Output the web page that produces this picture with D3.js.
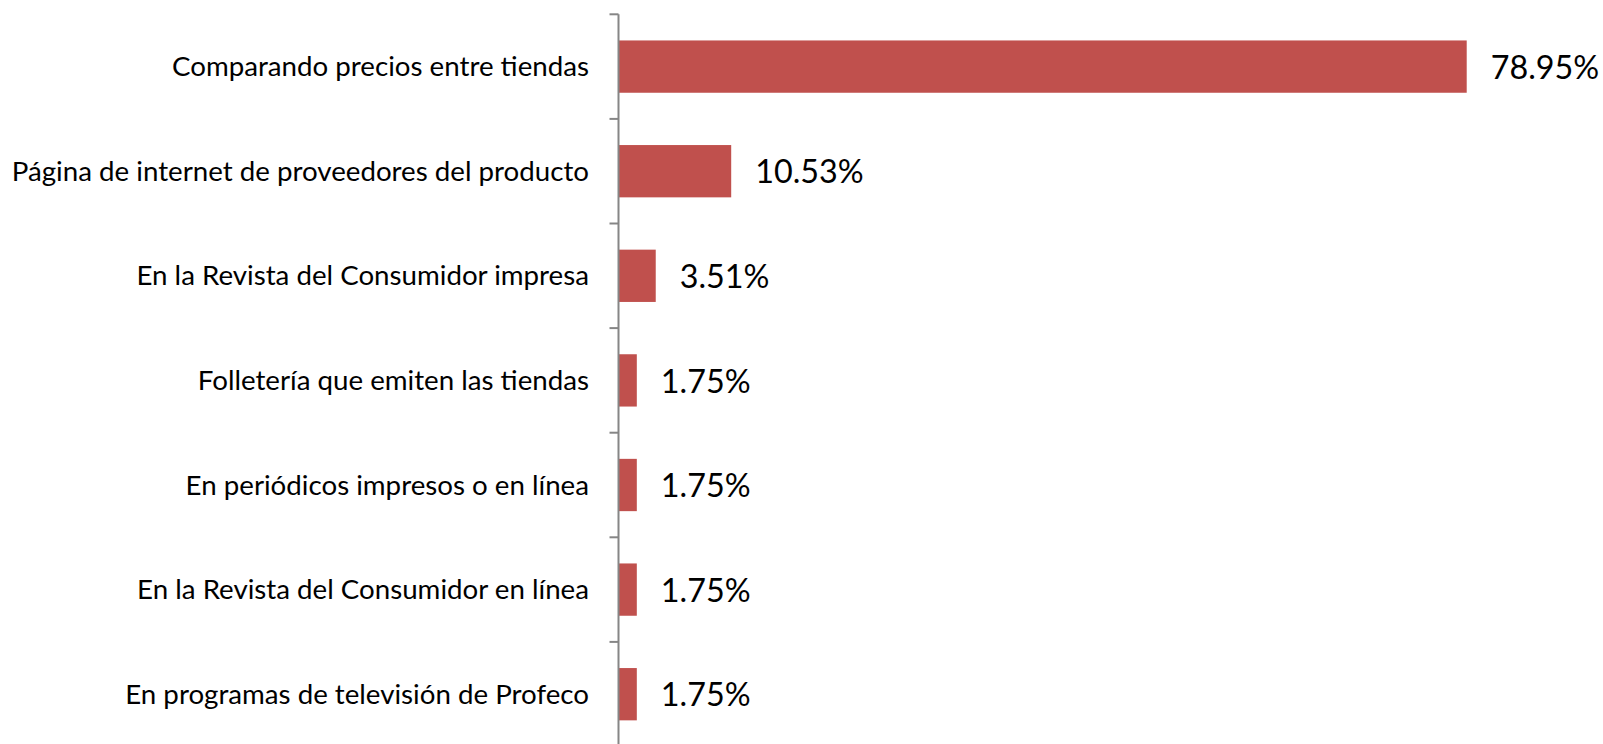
<!DOCTYPE html>
<html>
<head>
<meta charset="utf-8">
<script src="https://cdn.jsdelivr.net/npm/d3@7"></script>
<style>
  html, body { margin: 0; padding: 0; background: #ffffff; overflow: hidden; }
  svg { display: block; }
</style>
</head>
<body>
<svg id="chart" width="1603" height="744"></svg>
<script>
const categories = [
  "Comparando precios entre tiendas",
  "Página de internet de proveedores del producto",
  "En la Revista del Consumidor impresa",
  "Folletería que emiten las tiendas",
  "En periódicos impresos o en línea",
  "En la Revista del Consumidor en línea",
  "En programas de televisión de Profeco"
];
const values = [78.95, 10.53, 3.51, 1.75, 1.75, 1.75, 1.75];
const valueLabels = ["78.95%", "10.53%", "3.51%", "1.75%", "1.75%", "1.75%", "1.75%"];

const W = 1603, H = 744;
const svg = d3.select("#chart");

const x = d3.scaleLinear().domain([0, 90]).range([618, 1585.5]);
const y = d3.scaleBand().domain(categories).range([14.3, 746.5])
  .paddingInner(0.5).paddingOuter(0.25);

const data = categories.map((c, i) => ({ c, v: values[i], l: valueLabels[i] }));

// bars
svg.append("g").selectAll("rect").data(data).join("rect")
  .attr("x", x(0))
  .attr("y", d => y(d.c))
  .attr("width", d => x(d.v) - x(0))
  .attr("height", y.bandwidth())
  .attr("fill", "#C0504D");

// axis line and ticks at band boundaries
const axisX = 618.5;
const step = y.step();
const r0 = y.range()[0];
const axisG = svg.append("g");
axisG.append("line")
  .attr("x1", axisX).attr("x2", axisX)
  .attr("y1", r0).attr("y2", y.range()[1])
  .attr("stroke", "#868686").attr("stroke-width", 2);
axisG.selectAll("line.tick").data(d3.range(categories.length + 1)).join("line")
  .attr("class", "tick")
  .attr("x1", axisX - 9).attr("x2", axisX)
  .attr("y1", i => r0 + i * step).attr("y2", i => r0 + i * step)
  .attr("stroke", "#868686").attr("stroke-width", 2);

// category labels
svg.append("g").selectAll("text").data(data).join("text")
  .attr("x", 589)
  .attr("y", d => y(d.c) + y.bandwidth() / 2)
  .attr("dy", "0.35em")
  .attr("text-anchor", "end")
  .attr("font-family", "Lato, 'Open Sans', sans-serif")
  .attr("font-size", 27.7)
  .attr("fill", "#000")
  .text(d => d.c);

// value labels
svg.append("g").selectAll("text").data(data).join("text")
  .attr("x", d => x(d.v) + 24)
  .attr("y", d => y(d.c) + y.bandwidth() / 2)
  .attr("dy", "0.38em")
  .attr("font-family", "Lato, 'Open Sans', sans-serif")
  .attr("font-size", 32.3)
  .attr("fill", "#000")
  .text(d => d.l);
</script>
</body>
</html>
